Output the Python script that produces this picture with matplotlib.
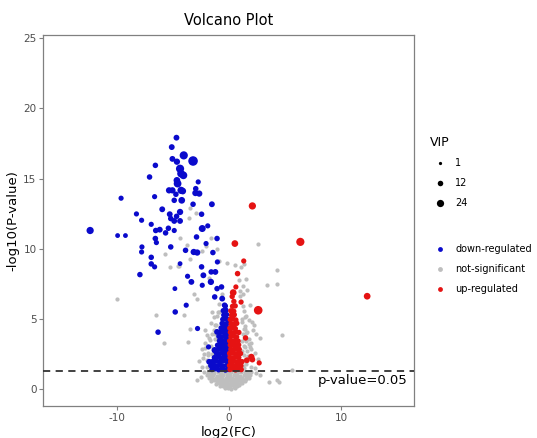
import numpy as np
import matplotlib
matplotlib.use("Agg")
import matplotlib.pyplot as plt

plt.rcParams["axes.unicode_minus"] = False

# ---- data ----
# down-regulated: scattered points
down_x = [-12.39, -9.94, -9.24, -9.63, -8.26, -7.80, -7.77, -7.80, -7.95, -7.09,
          -6.57, -6.64, -6.94, -6.54, -6.18, -6.57, -6.48, -6.94, -6.94, -6.64,
          -5.96, -5.66, -5.41, -5.29, -5.20, -4.89, -5.20, -4.37, -4.83, -4.80,
          -3.82, -6.33, -5.11, -4.69, -5.05, -4.65, -4.04, -3.21, -4.37, -4.28,
          -4.07, -4.65, -4.59, -5.35, -5.05, -4.28, -4.13, -4.74, -4.89, -4.22,
          -4.37, -4.68, -4.89, -4.37, -3.21, -2.97, -2.75, -3.00, -2.66, -2.45,
          -2.39, -1.90, -1.53, -2.90, -3.88, -3.15, -2.84, -2.05, -1.07, -1.44,
          -2.45, -2.29, -1.59, -1.04, -1.22, -3.70, -3.36, -2.39, -1.62, -1.07,
          -0.67, -1.28, -0.61, -0.40, -2.81, -1.07, -1.83, -1.28, -1.77]
down_y = [11.30, 10.94, 10.94, 13.60, 12.48, 12.03, 10.13, 9.77, 8.16, 15.11,
          15.94, 13.71, 11.74, 11.30, 11.36, 10.73, 10.44, 9.39, 8.92, 8.71,
          12.81, 11.13, 11.46, 12.46, 12.15, 11.30, 10.13, 8.94, 7.16, 5.50,
          5.98, 4.06, 17.24, 17.91, 16.40, 16.20, 16.65, 16.25, 15.70, 15.35,
          15.23, 14.87, 14.64, 14.16, 14.16, 14.16, 14.11, 13.88, 13.45, 13.45,
          12.62, 12.31, 11.98, 11.98, 13.17, 14.28, 14.76, 13.97, 13.93, 12.46,
          11.44, 11.63, 13.17, 10.84, 9.89, 9.77, 9.73, 10.37, 10.73, 9.73,
          8.71, 8.11, 8.35, 9.06, 8.35, 8.04, 7.64, 7.40, 7.64, 7.16,
          7.28, 6.57, 6.45, 5.98, 4.32, 4.08, 3.01, 2.78, 1.95]
down_vip = [24, 8, 8, 10, 10, 10, 10, 10, 12, 12,
            12, 10, 10, 12, 14, 12, 10, 12, 12, 10,
            14, 12, 12, 14, 12, 10, 12, 8, 8, 12,
            10, 12, 14, 14, 14, 17, 32, 45, 32, 28,
            28, 20, 28, 17, 17, 24, 20, 12, 12, 20,
            17, 12, 14, 14, 12, 12, 10, 17, 17, 12,
            22, 10, 14, 12, 12, 17, 17, 10, 12, 12,
            12, 14, 12, 10, 14, 10, 14, 10, 17, 12,
            12, 12, 14, 12, 10, 14, 10, 17, 14]

# down-regulated: dense column just left of zero
down_core_x = [-1.52, -1.24, -0.93, -0.62, -0.33, -0.08,
               -1.63, -1.36, -1.07, -0.79, -0.52, -0.21,
               -1.47, -1.17, -0.88, -0.63, -0.36, -0.11,
               -1.31, -1.02, -0.74, -0.49, -0.24,
               -1.12, -0.86, -0.61, -0.38, -0.14,
               -0.97, -0.71, -0.45, -0.19,
               -1.03, -0.77, -0.52, -0.27, -0.06,
               -0.86, -0.59, -0.34, -0.10,
               -0.91, -0.66, -0.42, -0.16,
               -0.76, -0.51, -0.26, -0.05,
               -0.71, -0.46, -0.21,
               -0.62, -0.37, -0.12,
               -0.56, -0.31, -0.09,
               -0.47, -0.22,
               -0.52, -0.27,
               -0.33]
down_core_y = [1.40, 1.45, 1.38, 1.43, 1.36, 1.41,
               1.68, 1.72, 1.66, 1.70, 1.65, 1.69,
               1.97, 2.01, 1.95, 1.99, 2.03, 1.96,
               2.25, 2.29, 2.22, 2.27, 2.24,
               2.55, 2.52, 2.58, 2.54, 2.57,
               2.84, 2.88, 2.81, 2.86,
               3.13, 3.17, 3.10, 3.15, 3.12,
               3.44, 3.41, 3.47, 3.43,
               3.76, 3.72, 3.78, 3.74,
               4.05, 4.09, 4.03, 4.07,
               4.36, 4.33, 4.39,
               4.68, 4.64, 4.70,
               4.97, 5.01, 4.95,
               5.28, 5.31,
               5.59, 5.62,
               5.92]
down_core_vip = [11] * len(down_core_x)

# up-regulated: scattered points
up_x = [2.08, 0.52, 6.36, 1.31, 0.76, 0.61, 0.37, 2.60, 12.32, 1.07,
        1.47, 1.99, 2.08, 1.59, 2.69]
up_y = [13.05, 10.37, 10.49, 9.13, 8.23, 7.28, 6.88, 5.62, 6.62, 6.20,
        3.65, 2.30, 2.11, 2.06, 1.87]
up_vip = [24, 20, 32, 10, 12, 10, 20, 36, 20, 10,
          12, 17, 14, 14, 10]

# up-regulated: dense column just right of zero
up_core_x = [0.08, 0.33, 0.58, 0.84, 1.09,
             0.04, 0.29, 0.55, 0.81, 1.06,
             0.14, 0.41, 0.66, 0.92, 1.16,
             0.09, 0.35, 0.61, 0.87,
             0.05, 0.31, 0.56, 0.82, 1.03,
             0.16, 0.42, 0.67, 0.91,
             0.11, 0.36, 0.62, 0.86,
             0.06, 0.32, 0.57, 0.81,
             0.17, 0.43, 0.68,
             0.12, 0.37, 0.63, 0.88,
             0.07, 0.31, 0.56,
             0.18, 0.43, 0.69,
             0.11, 0.36, 0.61,
             0.22, 0.47,
             0.16, 0.42,
             0.31, 0.55,
             0.43,
             0.28]
up_core_y = [1.40, 1.44, 1.37, 1.42, 1.39,
             1.68, 1.71, 1.65, 1.70, 1.67,
             1.97, 2.00, 1.94, 1.99, 1.96,
             2.26, 2.23, 2.29, 2.25,
             2.55, 2.58, 2.52, 2.57, 2.54,
             2.85, 2.82, 2.88, 2.84,
             3.14, 3.17, 3.11, 3.15,
             3.44, 3.41, 3.47, 3.43,
             3.75, 3.78, 3.72,
             4.05, 4.02, 4.08, 4.04,
             4.35, 4.38, 4.32,
             4.66, 4.63, 4.69,
             4.96, 4.99, 4.93,
             5.27, 5.30,
             5.58, 5.55,
             5.90, 5.93,
             6.25,
             6.60]
up_core_vip = [11] * len(up_core_x)

# not significant
ns_x = [-10.00, -6.51, -5.81, 2.54, 4.28, 4.28, 3.36, 4.74, 5.60, 3.52,
        4.43, -2.84, -3.44, -3.59, -2.99, -6.73, -4.34, -1.64, -2.09, -3.73,
        -5.68, -2.39, -1.04, -3.44, -4.49, -0.90, -0.14, 0.49, -1.77, -4.59,
        -5.26, -3.98, -3.12, -2.84, -3.52, -3.67, -2.14, -1.99, -2.45, -2.20,
        -1.53, -1.38, -1.28, -1.77, 1.53, 1.59, 1.83, 2.08, 2.14, 2.39,
        2.75, 1.74, 1.99, 1.31, 1.07, 0.92, 1.22, 1.28, 1.38, 1.44,
        -0.61, -0.92, -0.98, -1.28, -1.53, -1.99, 2.60,
        -2.00, -2.30, -1.90, -2.10, -1.60, -1.50, -1.20, -1.10,
        1.30, 1.50, 1.30, 1.60, 1.30, 1.50, 1.25, 1.40, 1.20, 1.35,
        1.10, 1.60, 1.90, 2.20, 1.00, -2.50, 2.80, 4.30,
        1.25, 1.45, 1.70, 1.20, 1.45, 1.75, 1.20, 1.55, 1.30, 1.15,
        1.50, 1.25, 0.95, 1.80, 2.00, 2.30, 1.95, 2.30,
        -1.85, -2.10, -1.70, -1.35, -1.25, -1.60, -0.90, -2.40, -2.70,
        # cloud under the threshold line
        -2.2, -1.9, -1.6, -1.3, -1.0, -0.7, -0.4, -0.1, 0.2, 0.5, 0.8, 1.1, 1.4, 1.7, 2.0, 2.4,
        -2.0, -1.7, -1.4, -1.1, -0.8, -0.5, -0.2, 0.1, 0.4, 0.7, 1.0, 1.3, 1.6, 1.9,
        -1.8, -1.5, -1.2, -0.9, -0.6, -0.3, 0.0, 0.3, 0.6, 0.9, 1.2, 1.5, 1.8,
        -1.6, -1.3, -1.0, -0.7, -0.4, -0.1, 0.2, 0.5, 0.8, 1.1, 1.4,
        -1.2, -0.9, -0.6, -0.3, 0.0, 0.3, 0.6, 0.9, 1.2,
        -0.8, -0.5, -0.2, 0.1, 0.4, 0.7,
        -0.4, -0.1, 0.2, 0.5,
        -1.45, -1.15, -0.85, -0.55, -0.25, 0.05, 0.35, 0.65, 0.95, 1.25, 1.55,
        -1.05, -0.75, -0.45, -0.15, 0.15, 0.45, 0.75, 1.05,
        -0.65, -0.35, -0.05, 0.25, 0.55, 0.85]
ns_y = [6.45, 5.31, 3.30, 10.34, 8.52, 7.47, 7.40, 3.84, 1.40, 0.52,
        0.52, 0.64, 12.90, 12.20, 12.55, 10.80, 10.80, 10.80, 10.20, 10.30,
        9.60, 9.84, 9.96, 9.25, 8.77, 9.13, 9.00, 8.82, 7.95, 8.75,
        8.71, 5.27, 6.81, 6.40, 4.32, 3.37, 4.20, 3.84, 2.89, 2.54,
        5.50, 5.15, 4.55, 3.61, 7.87, 7.04, 5.98, 4.79, 4.20, 3.96,
        3.61, 3.25, 2.89, 8.94, 8.71, 7.76, 7.33, 6.81, 5.15, 4.32,
        6.81, 6.10, 5.50, 3.96, 2.54, 2.06, 2.18,
        1.60, 2.20, 2.60, 3.30, 3.10, 3.90, 4.60, 5.20,
        1.50, 1.80, 2.40, 2.70, 3.10, 3.40, 3.90, 4.50, 5.00, 5.60,
        6.30, 4.10, 3.00, 4.60, 7.00, 0.90, 1.00, 0.65,
        1.65, 2.10, 2.35, 2.75, 3.00, 3.60, 3.40, 4.00, 4.25, 4.80,
        5.20, 5.90, 6.60, 4.90, 3.30, 2.60, 1.55, 1.50,
        2.45, 2.90, 3.50, 4.20, 3.55, 4.70, 5.50, 1.60, 2.00,
        1.20, 1.17, 1.22, 1.18, 1.21, 1.16, 1.20, 1.18, 1.22, 1.17, 1.20, 1.19, 1.21, 1.17, 1.20, 1.18,
        1.00, 0.98, 1.02, 0.97, 1.01, 0.99, 1.03, 0.98, 1.00, 1.02, 0.97, 1.01, 0.99, 1.00,
        0.80, 0.78, 0.82, 0.79, 0.81, 0.77, 0.80, 0.82, 0.78, 0.81, 0.79, 0.80, 0.78,
        0.60, 0.62, 0.58, 0.61, 0.59, 0.63, 0.60, 0.58, 0.62, 0.59, 0.61,
        0.40, 0.42, 0.38, 0.41, 0.39, 0.43, 0.40, 0.38, 0.41,
        0.20, 0.22, 0.18, 0.21, 0.19, 0.22,
        0.05, 0.07, 0.04, 0.06,
        0.70, 0.69, 0.71, 0.68, 0.72, 0.70, 0.69, 0.71, 0.70, 0.68, 0.71,
        0.50, 0.49, 0.51, 0.50, 0.48, 0.51, 0.50, 0.49,
        0.30, 0.31, 0.29, 0.30, 0.31, 0.29]
ns_vip = 5

size_breaks = [1, 12, 24]
group_labels = ["down-regulated", "not-significant", "up-regulated"]
threshold_p = 0.05

BLUE = "#0A0ACC"
GREY = "#BEBEBE"
RED = "#E51313"
TXT = "#4D4D4D"


def vip_size(v):
    return 4.5 + 0.95 * np.asarray(v, dtype=float)


fig = plt.figure(figsize=(5.37, 4.38), dpi=100)
ax = fig.add_axes([0.081, 0.073, 0.690, 0.847])

ax.scatter(ns_x, ns_y, s=vip_size(ns_vip), color=GREY, linewidths=0, zorder=2)
ax.scatter(down_core_x, down_core_y, s=vip_size(down_core_vip), color=BLUE, linewidths=0, zorder=3)
ax.scatter(down_x, down_y, s=vip_size(down_vip), color=BLUE, linewidths=0, zorder=3)
ax.scatter(up_core_x, up_core_y, s=vip_size(up_core_vip), color=RED, linewidths=0, zorder=3)
ax.scatter(up_x, up_y, s=vip_size(up_vip), color=RED, linewidths=0, zorder=3)

thr = -np.log10(threshold_p)
ax.axhline(thr, color="#333333", lw=1.3, ls=(0, (4, 3)), zorder=4)
ax.text(15.9, thr - 0.25, "p-value=0.05", ha="right", va="top", fontsize=9.5, color="black")

ax.set_xlim(-16.55, 16.5)
ax.set_ylim(-1.2, 25.22)
ax.set_xticks([-10, 0, 10])
ax.set_yticks([0, 5, 10, 15, 20, 25])
ax.tick_params(direction="out", length=3, width=0.8, color="#808080",
               labelcolor=TXT, labelsize=7.5, pad=2)
for sp in ax.spines.values():
    sp.set_color("#808080")
    sp.set_linewidth(0.9)

ax.set_xlabel("log2(FC)", fontsize=9.5, labelpad=2)
ax.set_ylabel("-log10(P-value)", fontsize=9.5, labelpad=3)
ax.set_title("Volcano Plot", fontsize=10.5, pad=7)

# legends drawn in pixel space on an overlay
lax = fig.add_axes([0, 0, 1, 1])
lax.set_xlim(0, 537)
lax.set_ylim(438, 0)
lax.axis("off")

lax.text(430, 142, "VIP", fontsize=9, va="center", ha="left")
for v, yy in zip(size_breaks, [163, 183, 203]):
    lax.scatter([440], [yy], s=vip_size(v), color="black", linewidths=0)
    lax.text(455, yy, str(v), fontsize=7, va="center", ha="left", color="black")

for lab, col, yy in zip(group_labels, [BLUE, GREY, RED], [249, 269, 289]):
    lax.scatter([440], [yy], s=vip_size(8), color=col, linewidths=0)
    lax.text(455, yy, lab, fontsize=7, va="center", ha="left", color="black")

fig.savefig("out.png", dpi=100)
